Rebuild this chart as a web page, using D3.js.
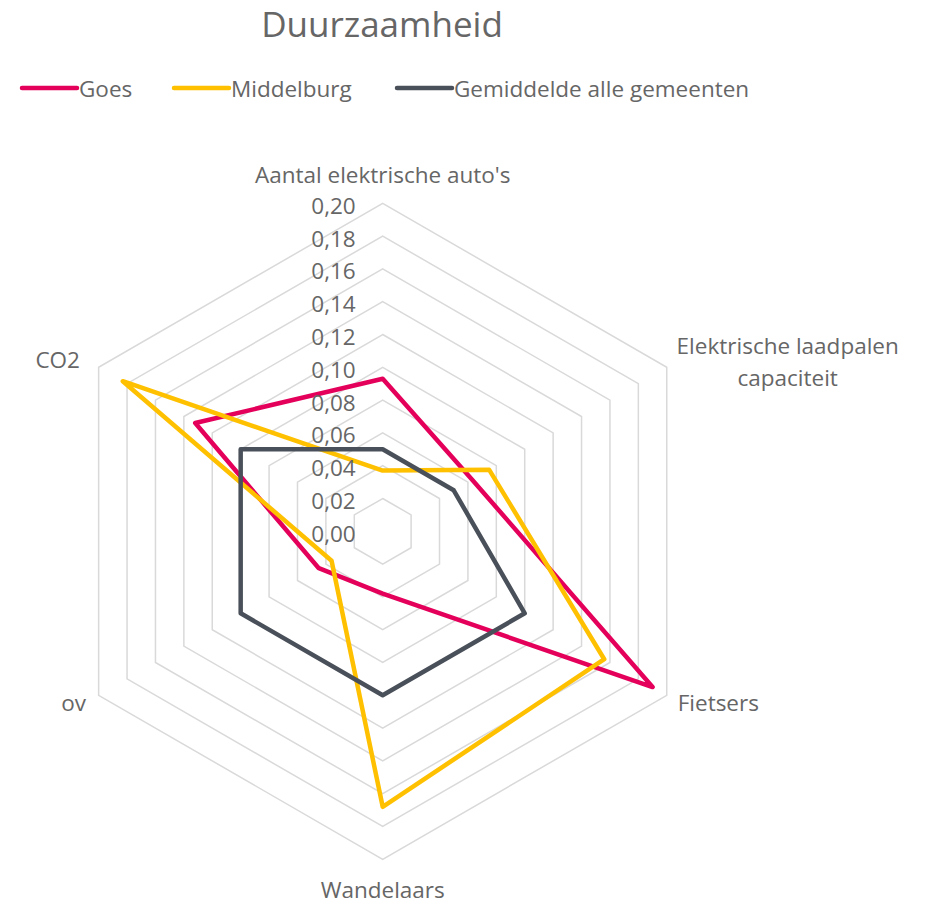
<!DOCTYPE html>
<html>
<head>
<meta charset="utf-8">
<script src="https://cdn.jsdelivr.net/npm/d3@7"></script>
<style>
  html, body { margin: 0; padding: 0; background: #fff; }
  svg text { font-family: "Open Sans", "Noto Sans", sans-serif; fill: #666; }
</style>
</head>
<body>
<svg id="chart" width="928" height="905"></svg>
<script>
// Radar chart: sustainability indicators per municipality
const categories = [
  "Aantal elektrische auto's",
  "Elektrische laadpalen capaciteit",
  "Fietsers",
  "Wandelaars",
  "ov",
  "CO2"
];
const seriesNames = ["Goes", "Middelburg", "Gemiddelde alle gemeenten"];
const goes = [0.093, 0.063, 0.190, 0.038, 0.045, 0.132];
const middelburg = [0.037, 0.075, 0.156, 0.168, 0.036, 0.183];
const gemiddelde = [0.050, 0.050, 0.100, 0.100, 0.100, 0.100];
const seriesColors = ["#E4005A", "#FFC000", "#4A5059"];
const tickValues = [0, 0.02, 0.04, 0.06, 0.08, 0.10, 0.12, 0.14, 0.16, 0.18, 0.20];

const svg = d3.select("#chart");
const cx = 382.7, cy = 531.3, R = 328;
const labelSize = 22.5;

const r = d3.scaleLinear().domain([0, 0.20]).range([0, R]);
const angle = d3.scalePoint().domain(d3.range(categories.length))
  .range([0, 2 * Math.PI * (categories.length - 1) / categories.length]);
const fmt = v => d3.format(".2f")(v).replace(".", ",");

const g = svg.append("g").attr("transform", `translate(${cx},${cy})`);

// grid rings (hexagons)
const ringLine = d3.lineRadial().curve(d3.curveLinearClosed);
g.append("g").selectAll("path")
  .data(tickValues.filter(v => v > 0))
  .join("path")
  .attr("d", v => ringLine(categories.map((c, i) => [angle(i), r(v)])))
  .attr("fill", "none")
  .attr("stroke", "#D9D9D9")
  .attr("stroke-width", 1.5);

// series polygons
const allSeries = [goes, middelburg, gemiddelde];
const seriesLine = d3.lineRadial()
  .angle((d, i) => angle(i))
  .radius(d => r(d))
  .curve(d3.curveLinearClosed);
g.append("g").selectAll("path")
  .data(allSeries)
  .join("path")
  .attr("d", d => seriesLine(d))
  .attr("fill", "none")
  .attr("stroke", (d, i) => seriesColors[i])
  .attr("stroke-width", 4.5)
  .attr("stroke-linejoin", "round");

// tick labels along the top axis
g.append("g").selectAll("text")
  .data(tickValues)
  .join("text")
  .attr("x", -27)
  .attr("y", v => -r(v) + 2)
  .attr("text-anchor", "end")
  .attr("dominant-baseline", "central")
  .attr("font-size", labelSize)
  .text(fmt);

// category labels
const labelSpec = [
  { lines: ["Aantal elektrische auto's"], dx: 0, dy: -357, anchor: "middle" },
  { lines: ["Elektrische laadpalen", "capaciteit"], dx: 405, dy: -186, anchor: "middle" },
  { lines: ["Fietsers"], dx: 295, dy: 171, anchor: "start" },
  { lines: ["Wandelaars"], dx: 0, dy: 358, anchor: "middle" },
  { lines: ["ov"], dx: -309, dy: 171, anchor: "middle" },
  { lines: ["CO2"], dx: -325, dy: -172, anchor: "middle" }
];
const catLabels = g.append("g").selectAll("text")
  .data(categories)
  .join("text")
  .attr("text-anchor", (d, i) => labelSpec[i].anchor)
  .attr("font-size", labelSize);
catLabels.each(function (d, i) {
  const spec = labelSpec[i];
  const t = d3.select(this);
  spec.lines.forEach((line, k) => {
    t.append("tspan")
      .attr("x", spec.dx)
      .attr("y", spec.dy + k * 32)
      .attr("dominant-baseline", "central")
      .text(line);
  });
});

// title
svg.append("text")
  .attr("x", 382)
  .attr("y", 23)
  .attr("text-anchor", "middle")
  .attr("dominant-baseline", "central")
  .attr("font-size", 35)
  .text("Duurzaamheid");

// legend
const legendX = [22, 174, 397];
const legend = svg.append("g").selectAll("g")
  .data(seriesNames)
  .join("g")
  .attr("transform", (d, i) => `translate(${legendX[i]},88)`);
legend.append("line")
  .attr("x1", 0).attr("x2", 55)
  .attr("stroke", (d, i) => seriesColors[i])
  .attr("stroke-width", 4.5)
  .attr("stroke-linecap", "round");
legend.append("text")
  .attr("x", 57)
  .attr("y", 0)
  .attr("dominant-baseline", "central")
  .attr("font-size", labelSize)
  .text(d => d);
</script>
</body>
</html>
